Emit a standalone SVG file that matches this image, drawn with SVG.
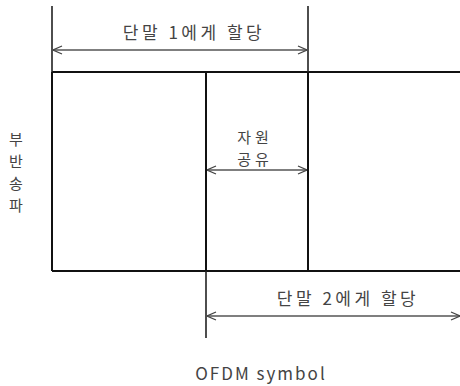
<svg xmlns="http://www.w3.org/2000/svg" width="460" height="386" viewBox="0 0 460 386">
<defs>
<marker id="ah" viewBox="0 0 10 10" refX="10" refY="5" markerWidth="10" markerHeight="10" markerUnits="userSpaceOnUse" orient="auto-start-reverse">
<path d="M1,1 L10,5 L1,9" fill="none" stroke="#444" stroke-width="1.3"/>
</marker>
</defs>
<style>
.box{fill:none;stroke:#111;stroke-width:2}
.ln{stroke:#222;stroke-width:1.6;fill:none}
.arr{stroke:#555;stroke-width:1.3;fill:none;marker-start:url(#ah);marker-end:url(#ah)}
text{font-family:"Noto Sans CJK KR","Noto Sans",sans-serif;font-size:17px;fill:#444;text-anchor:middle;dominant-baseline:central}
.sm{font-size:15px}
</style>
<rect width="460" height="386" fill="#fff"/>
<g id="grid">
<path class="box" d="M52,72 H460 M52,271 H308 M52,72 V271 M308,72 V271 M206,72 V271"/>
<path class="box" d="M206,271 H460"/>
</g>
<g id="connectors">
<path class="ln" d="M52,6 V72 M308,6 V72 M206,271 V338"/>
<path class="arr" d="M53,50 H307"/>
<path class="arr" d="M207,170 H307"/>
<path class="arr" d="M207,316 H460"/>
</g>
<g id="labels">
<text x="194" y="31" letter-spacing="3.5">단말 1에게 할당</text>
<text class="sm" x="255" y="136" letter-spacing="4">자원</text>
<text class="sm" x="255" y="158" letter-spacing="4">공유</text>
<text class="sm" x="16" y="138">부</text>
<text class="sm" x="16" y="160">반</text>
<text class="sm" x="16" y="182">송</text>
<text class="sm" x="16" y="204">파</text>
<text x="348" y="297" letter-spacing="3.5">단말 2에게 할당</text>
<text x="261" y="372" font-size="18" letter-spacing="2" font-family="Liberation Sans,Arial,sans-serif">OFDM symbol</text>
</g>
</svg>
